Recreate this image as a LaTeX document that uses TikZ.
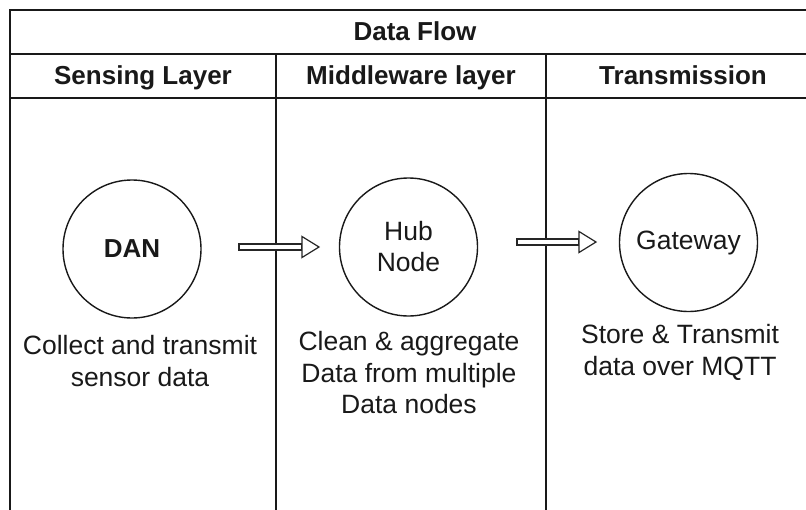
\documentclass[tikz,border=0pt]{standalone}
\usepackage{fontspec}
\setmainfont{Liberation Sans}
\usetikzlibrary{calc}
\begin{document}
\begin{tikzpicture}[x=1pt,y=-1pt,
  frame/.style={draw=black!90, line width=1.6pt},
  hdr/.style={font=\fontsize{26}{30}\selectfont\bfseries, text=black!90, inner sep=0pt, anchor=base},
  stage/.style={circle, draw=black!90, line width=1.4pt, minimum size=138pt,
    inner sep=0pt, align=center, font=\fontsize{26.5}{31}\selectfont, text=black!90},
  note/.style={align=center, font=\fontsize{26.5}{31.5}\selectfont, text=black!90, inner sep=0pt},
  flowbody/.style={draw=black!85, line width=1.2pt, fill=white, line join=miter},
]
\useasboundingbox (0,0) rectangle (806,509);
\clip (0,0) rectangle (806,509);

% swimlane frame: title row, header row and three lanes
\draw[frame] (10,10) rectangle (820,530);
\draw[frame] (10,54) -- (820,54);
\draw[frame] (10,98) -- (820,98);
\draw[frame] (276,54) -- (276,530);
\draw[frame] (546,54) -- (546,530);

\node[hdr] (title) at (415,40) {Data Flow};
\node[hdr] (lane1) at (143,84) {Sensing Layer};
\node[hdr] (lane2) at (411,84) {Middleware layer};
\node[hdr] (lane3) at (683,84) {Transmission};

% processing stages
\node[stage, font=\fontsize{26}{31}\selectfont\bfseries] (dan) at (132,249) {DAN};
\node[stage] (hub) at (408.5,247) {Hub\\Node};
\node[stage] (gw) at (688.5,242.5) {Gateway};

% stage descriptions
\node[note] (dantxt) at (140,361) {Collect and transmit\\sensor data};
\node[note] (hubtxt) at (409,373) {Clean \& aggregate\\Data from multiple\\Data nodes};
\node[note] (gwtxt) at (680,352.5) {Store \& Transmit\\data over MQTT};

% hollow block arrows between stages
\coordinate (a1s) at ($(dan.center)+(107,-2)$);
\coordinate (a1e) at ($(a1s -| hub.center)+(-89.5,0)$);
\draw[flowbody] ($(a1s)+(0,-3)$) rectangle ($(a1e)+(-17,3)$);
\draw[flowbody] ($(a1e)+(-17,-10.5)$) -- (a1e) -- ($(a1e)+(-17,10.5)$) -- cycle;

\coordinate (a2s) at ($(hub.center)+(108.5,-5)$);
\coordinate (a2e) at ($(a2s -| gw.center)+(-92.5,0)$);
\draw[flowbody] ($(a2s)+(0,-3)$) rectangle ($(a2e)+(-17,3)$);
\draw[flowbody] ($(a2e)+(-17,-10.5)$) -- (a2e) -- ($(a2e)+(-17,10.5)$) -- cycle;
\end{tikzpicture}
\end{document}
